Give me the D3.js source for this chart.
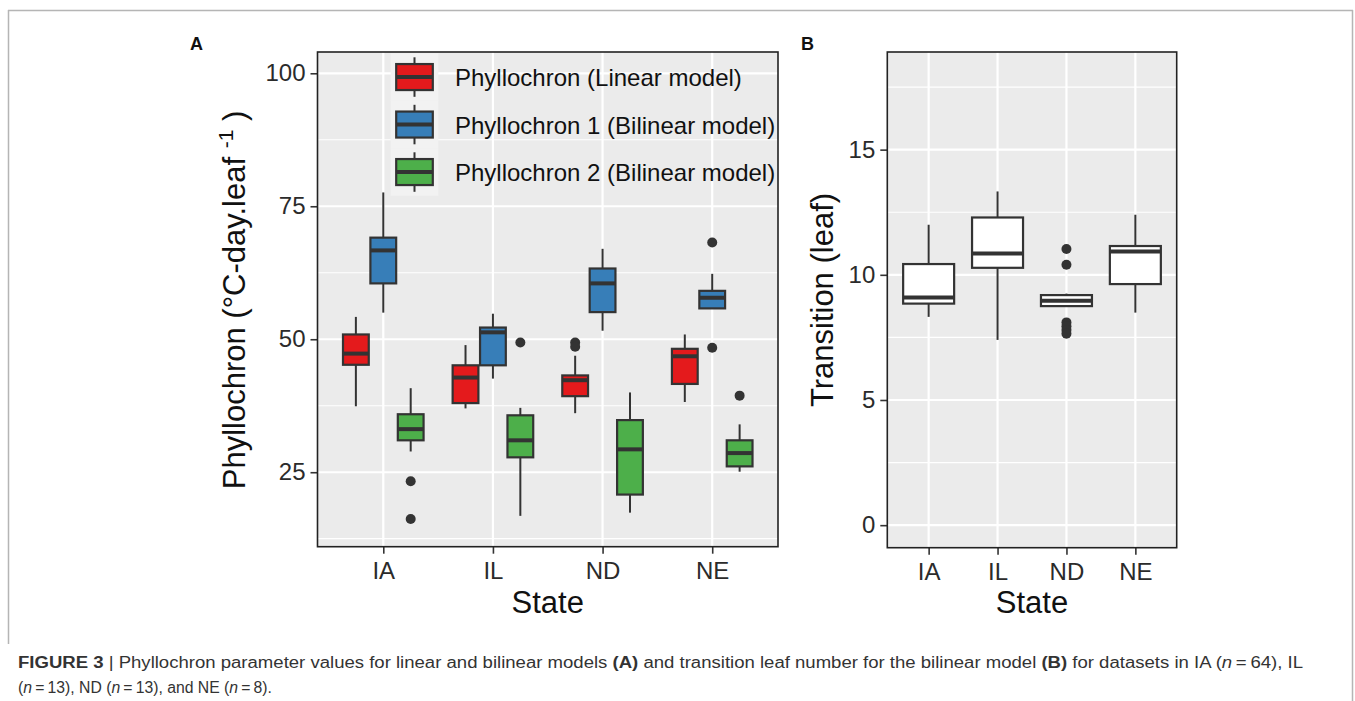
<!DOCTYPE html>
<html>
<head>
<meta charset="utf-8">
<script src="https://cdn.jsdelivr.net/npm/d3@7"></script>
<style>
  html, body { margin: 0; padding: 0; background: #fff; }
  svg { display: block; font-family: "Liberation Sans", Arial, sans-serif; }
</style>
</head>
<body>
<svg id="chart" width="1355" height="701"></svg>
<script>
// ---------------- data ----------------
const states = ["IA", "IL", "ND", "NE"];
const seriesNames = ["Phyllochron (Linear model)", "Phyllochron 1 (Bilinear model)", "Phyllochron 2 (Bilinear model)"];
// [lower whisker, Q1, median, Q3, upper whisker] per state
const linearStats = [
  [37.4, 45.2, 47.3, 50.9, 54.2],
  [37.0, 38.0, 42.8, 45.1, 48.9],
  [36.1, 39.3, 42.3, 43.2, 46.9],
  [38.2, 41.6, 46.8, 48.2, 50.9]
];
const linearOutliers = [[], [], [49.4, 48.6], []];
const bilinear1Stats = [
  [55.0, 60.5, 66.7, 69.1, 77.6],
  [42.6, 45.1, 51.3, 52.2, 54.8],
  [51.6, 55.1, 60.5, 63.3, 67.0],
  [55.7, 55.8, 57.8, 59.1, 62.3]
];
const bilinear1Outliers = [[], [], [], [68.2, 48.4]];
const bilinear2Stats = [
  [28.9, 31.0, 33.1, 35.9, 40.8],
  [16.8, 27.8, 31.0, 35.7, 37.1],
  [17.4, 20.8, 29.3, 34.8, 40.0],
  [25.1, 26.1, 28.6, 31.0, 34.0]
];
const bilinear2Outliers = [[23.3, 16.2], [49.4], [], [39.4]];
const transitionStats = [
  [8.32, 8.85, 9.09, 10.43, 12.0],
  [7.4, 10.28, 10.85, 12.29, 13.33],
  [8.75, 8.75, 8.96, 9.19, 9.25],
  [8.49, 9.63, 10.93, 11.15, 12.4]
];
const transitionOutliers = [[], [], [11.03, 10.4, 8.1, 7.95, 7.8, 7.65], []];
const ticksA = [25, 50, 75, 100];
const minorA = [12.5, 37.5, 62.5, 87.5];
const ticksB = [0, 5, 10, 15];
const minorB = [2.5, 7.5, 12.5, 17.5];

// ---------------- styles ----------------
const fillsA = ["#E41A1C", "#377EB8", "#4DAF4A"];
const ink = "#333333";
const panelBg = "#EBEBEB";
const FONT = "'Liberation Sans', Arial, sans-serif";

const svg = d3.select("#chart");
svg.append("rect").attr("width", 1355).attr("height", 701).attr("fill", "#fff");

// figure frame
const frame = svg.append("g").attr("stroke", "#b5b5b5").attr("stroke-width", 1.5).attr("fill", "none");
frame.append("line").attr("x1", 8).attr("x2", 1353).attr("y1", 10.5).attr("y2", 10.5);
frame.append("line").attr("x1", 8.5).attr("x2", 8.5).attr("y1", 10).attr("y2", 644);
frame.append("line").attr("x1", 1352.5).attr("x2", 1352.5).attr("y1", 10).attr("y2", 701);

const statSets = [linearStats, bilinear1Stats, bilinear2Stats];
const outlierSets = [linearOutliers, bilinear1Outliers, bilinear2Outliers];

function drawPanel(opts) {
  const { x0, x1, y0, y1, domain, ticks, minor } = opts;
  const g = svg.append("g");
  const x = d3.scalePoint().domain(states).range([x0, x1]).padding(0.6);
  const y = d3.scaleLinear().domain(domain).range([y1, y0]);
  g.append("rect").attr("x", x0).attr("y", y0).attr("width", x1 - x0).attr("height", y1 - y0).attr("fill", panelBg);
  const grid = g.append("g").attr("stroke", "#fff").attr("fill", "none");
  minor.forEach(v => grid.append("line").attr("x1", x0).attr("x2", x1).attr("y1", y(v)).attr("y2", y(v)).attr("stroke-width", 1.2));
  ticks.forEach(v => grid.append("line").attr("x1", x0).attr("x2", x1).attr("y1", y(v)).attr("y2", y(v)).attr("stroke-width", 2.2));
  states.forEach(s => grid.append("line").attr("x1", x(s)).attr("x2", x(s)).attr("y1", y0).attr("y2", y1).attr("stroke-width", 2.2));

  // axes
  const ay = g.append("g").attr("transform", `translate(${x0},0)`)
    .call(d3.axisLeft(y).tickValues(ticks).tickSize(7).tickPadding(5).tickFormat(d3.format("d")));
  ay.select(".domain").remove();
  ay.selectAll(".tick line").attr("stroke", ink).attr("stroke-width", 1.6);
  ay.selectAll(".tick text").attr("fill", "#2b2b2b").style("font-size", "24px").style("font-family", FONT);
  const ax = g.append("g").attr("transform", `translate(0,${y1})`)
    .call(d3.axisBottom(x).tickSize(7).tickPadding(8));
  ax.select(".domain").remove();
  ax.selectAll(".tick line").attr("stroke", ink).attr("stroke-width", 1.6);
  ax.selectAll(".tick text").attr("fill", "#2b2b2b").style("font-size", "24px").style("font-family", FONT);
  return { g, x, y };
}

function drawBox(g, cx, w, y, s, fill) {
  const [lo, q1, med, q3, hi] = s;
  g.append("line").attr("x1", cx).attr("x2", cx).attr("y1", y(hi)).attr("y2", y(q3)).attr("stroke", ink).attr("stroke-width", 2);
  g.append("line").attr("x1", cx).attr("x2", cx).attr("y1", y(q1)).attr("y2", y(lo)).attr("stroke", ink).attr("stroke-width", 2);
  g.append("rect").attr("x", cx - w / 2).attr("y", y(q3)).attr("width", w).attr("height", Math.max(0.5, y(q1) - y(q3)))
    .attr("fill", fill).attr("stroke", ink).attr("stroke-width", 2.2);
  g.append("line").attr("x1", cx - w / 2).attr("x2", cx + w / 2).attr("y1", y(med)).attr("y2", y(med)).attr("stroke", ink).attr("stroke-width", 4);
}

// ---------------- Panel A ----------------
const A = drawPanel({ x0: 317.5, x1: 778, y0: 52, y1: 546.7, domain: [11, 104], ticks: ticksA, minor: minorA });
const stepA = A.x.step();
const marksA = A.g.append("g");
states.forEach((st, i) => {
  statSets.forEach((set, k) => {
    const cx = A.x(st) + (k - 1) * stepA * 0.25;
    drawBox(marksA, cx, stepA * 0.235, A.y, set[i], fillsA[k]);
    outlierSets[k][i].forEach(v => marksA.append("circle").attr("cx", cx).attr("cy", A.y(v)).attr("r", 5).attr("fill", ink));
  });
});
// legend
const legend = A.g.append("g");
const keyX = 390.7, keyW = 47.6, keyTop = 53.3, keyH = 47.5;
seriesNames.forEach((name, k) => {
  const ky = keyTop + k * keyH;
  legend.append("rect").attr("x", keyX).attr("y", ky).attr("width", keyW).attr("height", keyH).attr("fill", "#F2F2F2");
  const cx = keyX + keyW / 2, cy = ky + keyH / 2;
  legend.append("line").attr("x1", cx).attr("x2", cx).attr("y1", ky + 4).attr("y2", ky + keyH - 4).attr("stroke", ink).attr("stroke-width", 2);
  legend.append("rect").attr("x", keyX + 5.5).attr("y", cy - 13).attr("width", keyW - 11).attr("height", 26)
    .attr("fill", fillsA[k]).attr("stroke", ink).attr("stroke-width", 2.2);
  legend.append("line").attr("x1", keyX + 5.5).attr("x2", keyX + keyW - 5.5).attr("y1", cy).attr("y2", cy).attr("stroke", ink).attr("stroke-width", 4);
  legend.append("text").attr("x", 455).attr("y", cy + 9).attr("fill", "#111").style("font-size", "24px").style("font-family", FONT).text(name);
});
A.g.append("rect").attr("x", 317.5).attr("y", 52).attr("width", 778 - 317.5).attr("height", 546.7 - 52)
  .attr("fill", "none").attr("stroke", "#222").attr("stroke-width", 1.6);

// ---------------- Panel B ----------------
const B = drawPanel({ x0: 887.3, x1: 1176.7, y0: 52, y1: 547.7, domain: [-0.9, 18.9], ticks: ticksB, minor: minorB });
const stepB = B.x.step();
const marksB = B.g.append("g");
states.forEach((st, i) => {
  const cx = B.x(st);
  drawBox(marksB, cx, stepB * 0.74, B.y, transitionStats[i], "#ffffff");
  transitionOutliers[i].forEach(v => marksB.append("circle").attr("cx", cx).attr("cy", B.y(v)).attr("r", 5).attr("fill", ink));
});
B.g.append("rect").attr("x", 887.3).attr("y", 52).attr("width", 1176.7 - 887.3).attr("height", 547.7 - 52)
  .attr("fill", "none").attr("stroke", "#222").attr("stroke-width", 1.6);

// ---------------- titles ----------------
const titleStyle = sel => sel.attr("fill", "#111").style("font-size", "31px").style("font-family", FONT);
svg.append("text").attr("x", 547.75).attr("y", 613).attr("text-anchor", "middle").call(titleStyle).text("State");
svg.append("text").attr("x", 1032).attr("y", 613).attr("text-anchor", "middle").call(titleStyle).text("State");
const yTitleA = svg.append("text").attr("transform", "translate(245,300) rotate(-90)").attr("text-anchor", "middle").call(titleStyle);
yTitleA.append("tspan").text("Phyllochron (°C-day.leaf ");
yTitleA.append("tspan").attr("dy", -12).style("font-size", "21px").text("-1");
yTitleA.append("tspan").attr("dy", 12).text(" )");
svg.append("text").attr("transform", "translate(833,300) rotate(-90)").attr("text-anchor", "middle").call(titleStyle).text("Transition (leaf)");

svg.append("text").attr("x", 190).attr("y", 50).attr("font-weight", "bold").style("font-size", "18px").style("font-family", FONT).attr("fill", "#111").text("A");
svg.append("text").attr("x", 801).attr("y", 50).attr("font-weight", "bold").style("font-size", "18px").style("font-family", FONT).attr("fill", "#111").text("B");

// ---------------- caption ----------------
const capFont = "'Liberation Sans Narrow', 'Liberation Sans', Arial, sans-serif";
const cap1 = svg.append("text").attr("x", 18).attr("y", 668).attr("fill", "#333")
  .style("font-size", "16px").style("font-family", capFont)
  .attr("textLength", 1285).attr("lengthAdjust", "spacingAndGlyphs");
[
  ["FIGURE 3", "bold", "normal"], ["  |  ", "normal", "normal"],
  ["Phyllochron parameter values for linear and bilinear models ", "normal", "normal"],
  ["(A)", "bold", "normal"], [" and transition leaf number for the bilinear model ", "normal", "normal"],
  ["(B)", "bold", "normal"], [" for datasets in IA (", "normal", "normal"], ["n", "normal", "italic"],
  ["\u2009=\u200964), IL", "normal", "normal"]
].forEach(([t, w, s]) => cap1.append("tspan").attr("font-weight", w).attr("font-style", s).text(t));
const cap2 = svg.append("text").attr("x", 18).attr("y", 693).attr("fill", "#333")
  .style("font-size", "16px").style("font-family", capFont)
  .attr("textLength", 254).attr("lengthAdjust", "spacingAndGlyphs");
[
  ["(", "normal"], ["n", "italic"], ["\u2009=\u200913), ND (", "normal"], ["n", "italic"],
  ["\u2009=\u200913), and NE (", "normal"], ["n", "italic"], ["\u2009=\u20098).", "normal"]
].forEach(([t, s]) => cap2.append("tspan").attr("font-style", s).text(t));
</script>
</body>
</html>
